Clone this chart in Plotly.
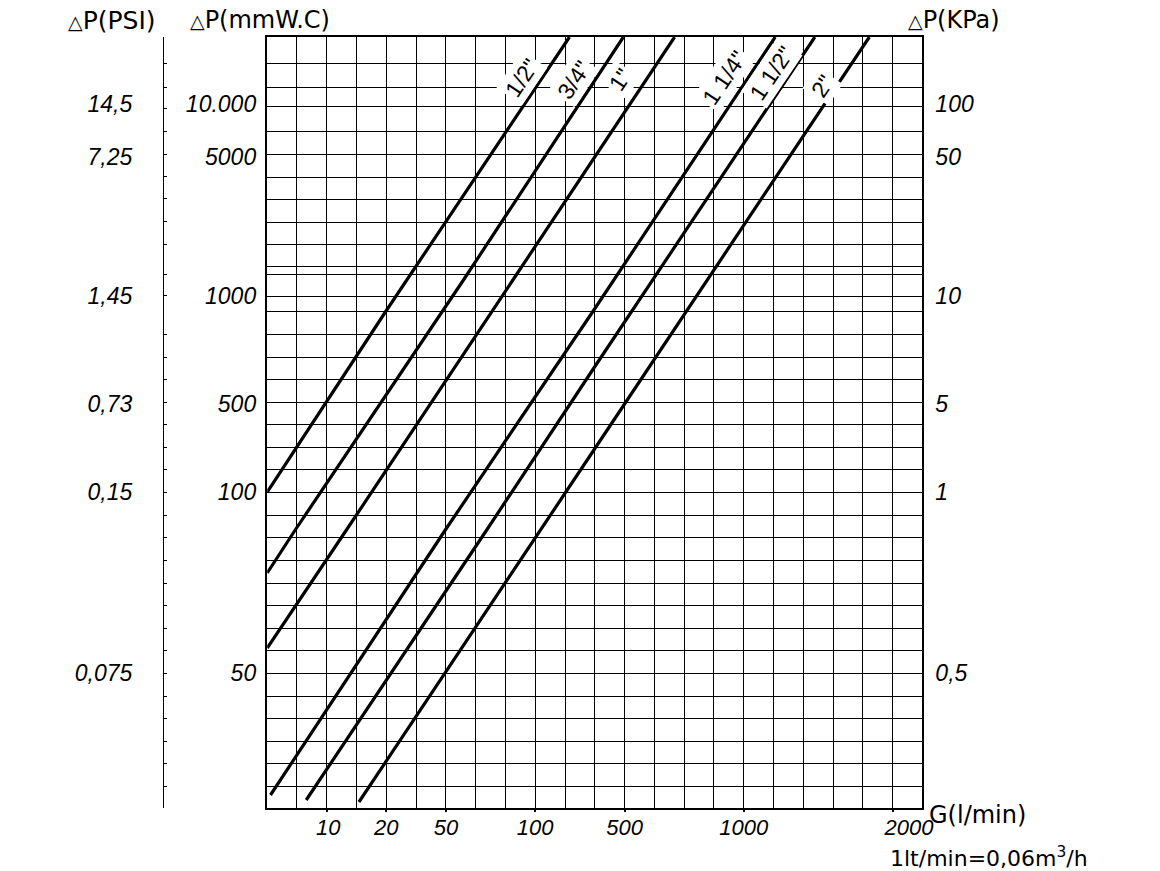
import plotly.graph_objects as go

FIG_W, FIG_H = 1160, 871

# ---------------- data ----------------
# Flow axis G (l/min): chart grid columns and labelled divisions
g_columns = list(range(0, 23))
g_tick_cols = [2, 4, 6, 9, 12, 16, 21]
g_tick_text = ["10", "20", "50", "100", "500", "1000", "2000"]
g_label_cols = [2.05, 4, 6, 9, 12, 16, 21.55]

# Pressure scale: chart divisions (0 = bottom of grid, 771 = top)
dp_grid = [771, 745, 721, 702, 677, 654, 631, 609, 586, 564, 542, 534, 512, 497,
           474, 451, 429, 406, 384, 361, 339, 316, 293, 271, 248, 225, 203, 180,
           158, 135, 112, 90, 67, 45, 22, 0]
psi_ticks = [771, 745, 721, 700, 677, 654, 632, 610, 587, 564, 534, 513,
             474, 451, 429, 406, 384, 361, 339, 316, 293, 271, 248, 225, 203, 180,
             158, 135, 112, 90, 67, 45, 22, 0]
label_rows = [704, 651, 512, 404, 316, 135]
mmwc_text = ["10.000", "5000", "1000", "500", "100", "50"]
kpa_text = ["100", "50", "10", "5", "1", "0,5"]
psi_text = ["14,5", "7,25", "1,45", "0,73", "0,15", "0,075"]

# Pipe-size curves (in chart scale units)
sizes = ['1/2"', '3/4"', '1"', '1 1/4"', '1 1/2"', '2"']
curve_g = [
    [0, 3.99, 10.15],
    [0, 0.94, 6.59, 11.96],
    [0, 2.66, 8.25, 13.68],
    [0.11, 5.98, 10.97, 17.06],
    [1.31, 7.37, 10.97, 18.39],
    [3.08, 9.20, 10.97, 20.22],
]
curve_dp = [
    [316, 497, 771],
    [235, 278, 528, 771],
    [160, 278, 528, 771],
    [13, 278, 498, 771],
    [8, 278, 440, 771],
    [6, 278, 358, 771],
]
label_g = [8.55, 10.3, 11.85, 15.35, 16.95, 18.65]
label_dp = [730, 728, 728, 730, 735, 722]

# ---------------- figure ----------------
FONT = "Liberation Sans, Arial, sans-serif"
WIDE = "DejaVu Sans, Verdana, sans-serif"
BLACK = "#000000"

X0, X1 = 270 / FIG_W, 932 / FIG_W
YR = [0, 771]

fig = go.Figure()
for name, gx, dy in zip(sizes, curve_g, curve_dp):
    fig.add_trace(go.Scatter(x=gx, y=dy, mode="lines", name=name,
                             line=dict(color=BLACK, width=3.2),
                             showlegend=False, hoverinfo="skip"))

# empty helper traces so that every overlay axis is rendered
for xa, ya in [("x2", "y"), ("x3", "y"), ("x", "y2"), ("x", "y3"), ("x", "y4"), ("x", "y5")]:
    fig.add_trace(go.Scatter(x=[None], y=[None], xaxis=xa, yaxis=ya, mode="lines",
                             showlegend=False, hoverinfo="skip"))

common_y = dict(range=YR, fixedrange=True, zeroline=False, showgrid=False)

fig.update_layout(
    width=FIG_W, height=FIG_H,
    margin=dict(l=0, r=0, t=37, b=63),
    paper_bgcolor="white", plot_bgcolor="white",
    showlegend=False,
    xaxis=dict(domain=[X0, X1], range=[0, 22], tickvals=g_columns, showgrid=True,
               gridcolor=BLACK, gridwidth=1, showticklabels=False, ticks="",
               showline=True, mirror=True, linecolor=BLACK, linewidth=2, zeroline=False,
               fixedrange=True),
    xaxis2=dict(overlaying="x", anchor="y", side="bottom", range=[0, 22],
                tickvals=g_tick_cols, ticks="outside", ticklen=3, tickwidth=2,
                tickcolor=BLACK, showticklabels=False, showgrid=False, zeroline=False),
    xaxis3=dict(overlaying="x", anchor="y", side="bottom", range=[0, 22],
                tickvals=g_label_cols, ticktext=g_tick_text, ticks="",
                showgrid=False, zeroline=False, ticklabelstandoff=4,
                tickfont=dict(family=FONT, size=22, color=BLACK, style="italic")),
    yaxis=dict(**{k: v for k, v in common_y.items() if k != "showgrid"},
               tickvals=dp_grid, showgrid=True, gridcolor=BLACK, gridwidth=1,
               showticklabels=False, ticks="", showline=True, mirror=True,
               linecolor=BLACK, linewidth=2),
    yaxis2=dict(**common_y, overlaying="y", anchor="x", side="left",
                tickvals=label_rows, ticktext=mmwc_text, ticks="", ticklabelstandoff=10,
                tickfont=dict(family=FONT, size=23, color=BLACK, style="italic")),
    yaxis3=dict(**common_y, overlaying="y", anchor="x", side="right",
                tickvals=label_rows, ticktext=kpa_text, ticks="", ticklabelstandoff=12,
                tickfont=dict(family=FONT, size=23, color=BLACK, style="italic")),
    yaxis4=dict(**common_y, overlaying="y", anchor="free", position=165 / FIG_W,
                side="left", tickvals=psi_ticks, ticks="inside", ticklen=3,
                tickwidth=1, tickcolor=BLACK, showticklabels=False,
                showline=True, linecolor=BLACK, linewidth=1),
    yaxis5=dict(**common_y, overlaying="y", anchor="free", position=165 / FIG_W,
                side="left", tickvals=label_rows, ticktext=psi_text, ticks="",
                ticklabelstandoff=31,
                tickfont=dict(family=FONT, size=23, color=BLACK, style="italic")),
)

# curve labels
for name, gx, dy in zip(sizes, label_g, label_dp):
    fig.add_annotation(x=gx, y=dy, xref="x", yref="y", text=name, showarrow=False,
                       textangle=-56, bgcolor="white", borderpad=2,
                       font=dict(family=FONT, size=23, color=BLACK))

tri = '<span style="font-size:19px">△</span>'
titles = [
    (tri + "P(PSI)", 67, 20, 25),
    (tri + "P(mmW.C)", 190, 20, 24),
    (tri + "P(KPa)", 915, 20, 24),
    ("G(l/min)", 937, 815, 24),
    ("1lt/min=0,06m<sup>3</sup>/h", 897, 857, 22),
]
for txt, px, py, fs in titles:
    fig.add_annotation(x=px / FIG_W, y=(808 - py) / 771, xref="paper", yref="paper",
                       text=txt, showarrow=False, xanchor="left", yanchor="middle",
                       font=dict(family=WIDE, size=fs, color=BLACK))

fig.write_html(
    "out.html",
    config={"displayModeBar": False, "staticPlot": True},
    post_script=("document.documentElement.style.overflow='hidden';"
                 "document.body.style.overflow='hidden';"
                 "document.body.style.margin='0px';"),
)
